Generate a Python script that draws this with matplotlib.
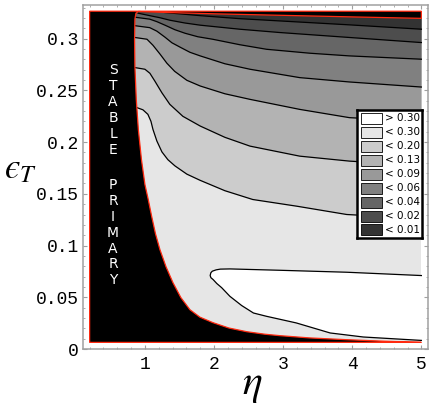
import matplotlib
matplotlib.use('Agg')
import matplotlib.pyplot as plt
from matplotlib.patches import Rectangle
from matplotlib.ticker import MultipleLocator

plt.rcParams['mathtext.fontset'] = 'stix'

# extent of the computed map
eta_range = [0.2, 5.0]
eps_range = [0.0064, 0.3265]

legend_labels = ['> 0.30', '< 0.30', '< 0.20', '< 0.13', '< 0.09',
                 '< 0.06', '< 0.04', '< 0.02', '< 0.01']
band_grays = [1.0, 0.9, 0.8, 0.7, 0.6, 0.5, 0.4, 0.3, 0.2]

# edge of the "stable primary" region (top to bottom)
edge_eta = [0.91, 0.87, 0.855, 0.85, 0.855, 0.875, 0.905, 0.95, 1.0, 1.048,
            1.097, 1.152, 1.217, 1.304, 1.405, 1.52, 1.651, 1.795, 1.983,
            2.214, 2.475, 2.735, 2.952, 3.386, 3.92, 4.47, 5.0]
edge_eps = [0.3265, 0.3245, 0.319, 0.299, 0.273, 0.241, 0.212, 0.183, 0.159,
            0.1445, 0.1284, 0.1116, 0.0961, 0.0797, 0.0642, 0.0497, 0.038,
            0.0308, 0.0255, 0.0203, 0.0167, 0.0143, 0.0129, 0.0107, 0.009,
            0.0075, 0.0064]

# lower edge of the thin black strip along the top
strip_eta = [0.91, 1.2, 2.0, 3.0, 4.0, 5.0]
strip_eps = [0.3262, 0.3255, 0.3240, 0.3225, 0.3210, 0.3196]

# contour lines
c01_eta = [1.29, 1.80, 2.37, 2.95, 3.96, 5.0]
c01_eps = [0.3252, 0.3222, 0.3193, 0.3171, 0.3133, 0.3091]

c02_eta = [0.90, 1.07, 1.217, 1.36, 1.578, 1.80, 2.37, 2.95, 3.96, 5.0]
c02_eps = [0.3246, 0.3222, 0.3202, 0.3178, 0.3151, 0.3130, 0.3091, 0.3059, 0.3011, 0.2962]

c04_eta = [0.855, 1.07, 1.173, 1.29, 1.434, 1.58, 1.766, 1.98, 2.373, 2.76, 3.385, 3.96, 5.0]
c04_eps = [0.3207, 0.3188, 0.3164, 0.3130, 0.3086, 0.3052, 0.3018, 0.2994, 0.2941,
           0.2897, 0.2859, 0.2833, 0.2801]

c06_eta = [0.855, 1.07, 1.173, 1.29, 1.39, 1.51, 1.651, 1.80, 2.157, 2.52, 3.24, 3.96, 5.0]
c06_eps = [0.3125, 0.3106, 0.3072, 0.3014, 0.2960, 0.2917, 0.2868, 0.2833, 0.2757,
           0.2704, 0.2623, 0.2581, 0.2532]

c09_eta = [0.855, 1.03, 1.116, 1.22, 1.318, 1.43, 1.607, 1.80, 2.157, 2.52, 3.24, 3.96, 5.0]
c09_eps = [0.3011, 0.2994, 0.2936, 0.2849, 0.2762, 0.2684, 0.2597, 0.2542, 0.2467,
           0.2413, 0.2316, 0.2236, 0.2200]

c13_eta = [0.855, 1.0, 1.072, 1.145, 1.246, 1.36, 1.549, 1.80, 2.157, 2.52, 3.24, 3.96, 5.0]
c13_eps = [0.2720, 0.2704, 0.2665, 0.2588, 0.2476, 0.2365, 0.2249, 0.2155, 0.2046,
           0.1961, 0.1864, 0.1816, 0.1774]

c20_eta = [0.884, 0.971, 1.043, 1.087, 1.116, 1.173, 1.246, 1.332, 1.434, 1.607,
           1.80, 2.157, 2.56, 3.20, 3.92, 5.0]
c20_eps = [0.2333, 0.2312, 0.2268, 0.2201, 0.2123, 0.2010, 0.1905, 0.1830, 0.1770,
           0.1690, 0.1630, 0.1530, 0.1445, 0.1380, 0.1300, 0.1261]

# closed 0.30 contour (white tongue)
c30_eta = [5.0, 3.92, 2.95, 2.23, 2.09, 2.03, 1.975, 1.954, 1.944, 1.955, 1.987,
           2.04, 2.11, 2.23, 2.40, 2.57, 2.76, 3.19, 3.68, 4.16, 5.0]
c30_eps = [0.0710, 0.0742, 0.0761, 0.0774, 0.0772, 0.0765, 0.0752, 0.0737, 0.0710,
           0.0689, 0.0671, 0.0633, 0.0593, 0.0509, 0.0420, 0.0348, 0.0316, 0.0252,
           0.0155, 0.0116, 0.0083]

lines = [(c20_eta, c20_eps, 0.8), (c13_eta, c13_eps, 0.7), (c09_eta, c09_eps, 0.6),
         (c06_eta, c06_eps, 0.5), (c04_eta, c04_eps, 0.4), (c02_eta, c02_eps, 0.3),
         (c01_eta, c01_eps, 0.2)]

fig = plt.figure(figsize=(4.36, 4.08), dpi=100)
ax = fig.add_axes([83/436, 1-349/408, 345/436, 344/408])

ax.fill_between(eta_range, eps_range[0], eps_range[1], color='0.9', lw=0, zorder=1)
for le, lp, g in lines:
    px = [eta_range[0]] + le + [eta_range[1], eta_range[0]]
    py = [lp[0]] + lp + [eps_range[1], eps_range[1]]
    ax.fill(px, py, color=str(g), lw=0, zorder=1)
ax.fill(c30_eta, c30_eps, color='white', lw=0, zorder=1)

for le, lp, g in lines:
    ax.plot(le, lp, color='black', lw=0.9, zorder=2, solid_joinstyle='round')
ax.plot(c30_eta, c30_eps, color='black', lw=0.9, zorder=2, solid_joinstyle='round')

# black regions with red outline
red = '#ff2a10'
bx = [eta_range[0]] + edge_eta + [eta_range[0]]
by = [eps_range[1]] + edge_eps + [eps_range[0]]
ax.fill(bx, by, facecolor='black', edgecolor=red, lw=0.9, zorder=3)
sx = [strip_eta[0], eta_range[1]] + strip_eta[::-1]
sy = [eps_range[1], eps_range[1]] + strip_eps[::-1]
ax.fill(sx, sy, facecolor='black', edgecolor=red, lw=0.9, zorder=3)

ax.set_xlim(0.104, 5.096)
ax.set_ylim(0, 0.3325)
ax.set_xticks([1, 2, 3, 4, 5])
ax.set_yticks([0, 0.05, 0.1, 0.15, 0.2, 0.25, 0.3])
ax.set_yticklabels(['0', '0.05', '0.1', '0.15', '0.2', '0.25', '0.3'])
ax.xaxis.set_minor_locator(MultipleLocator(0.2))
ax.yaxis.set_minor_locator(MultipleLocator(0.01))
frame_gray = '#a0a0a0'
ax.tick_params(which='both', direction='in', top=True, right=True, color=frame_gray)
ax.tick_params(which='major', length=3.2, width=0.8)
ax.tick_params(which='minor', length=1.6, width=0.6)
ax.tick_params(axis='y', pad=3)
ax.tick_params(axis='x', pad=5)
for lab in ax.get_xticklabels() + ax.get_yticklabels():
    lab.set_fontfamily('Liberation Mono')
    lab.set_fontsize(13)
for sp in ax.spines.values():
    sp.set_color(frame_gray)
    sp.set_linewidth(1.1)

fig.text(20/436, 1-168/408, '$\u03f5_T$', fontsize=25, ha='center', va='center')
fig.text(252/436, 1-384/408, r'$\eta$', fontsize=30, ha='center', va='center')

for i, ch in enumerate('STABLE'):
    fig.text(113/436, 1-(70 + 16*i)/408, ch, color='white', fontsize=10,
             ha='center', va='center', family='DejaVu Sans', zorder=5)
for i, ch in enumerate('PRIMARY'):
    fig.text(113/436, 1-(185 + 15.9*i)/408, ch, color='white', fontsize=10,
             ha='center', va='center', family='DejaVu Sans', zorder=5)

# legend box
lg = fig.add_axes([356.7/436, (408-238.3)/408, 65/436, 128.3/408])
lg.set_xlim(0, 65)
lg.set_ylim(128.3, 0)
lg.set_xticks([])
lg.set_yticks([])
for sp in lg.spines.values():
    sp.set_linewidth(1.8)
    sp.set_color('black')
for i, (lab, g) in enumerate(zip(legend_labels, band_grays)):
    yc = 8.3 + 13.96*i
    lg.add_patch(Rectangle((4.3, yc-5.5), 20.7, 11, facecolor=str(g),
                           edgecolor='black', lw=0.6))
    lg.text(28, yc, lab, fontsize=7.5, va='center', ha='left', family='DejaVu Sans')

fig.savefig('out.png', dpi=100)
